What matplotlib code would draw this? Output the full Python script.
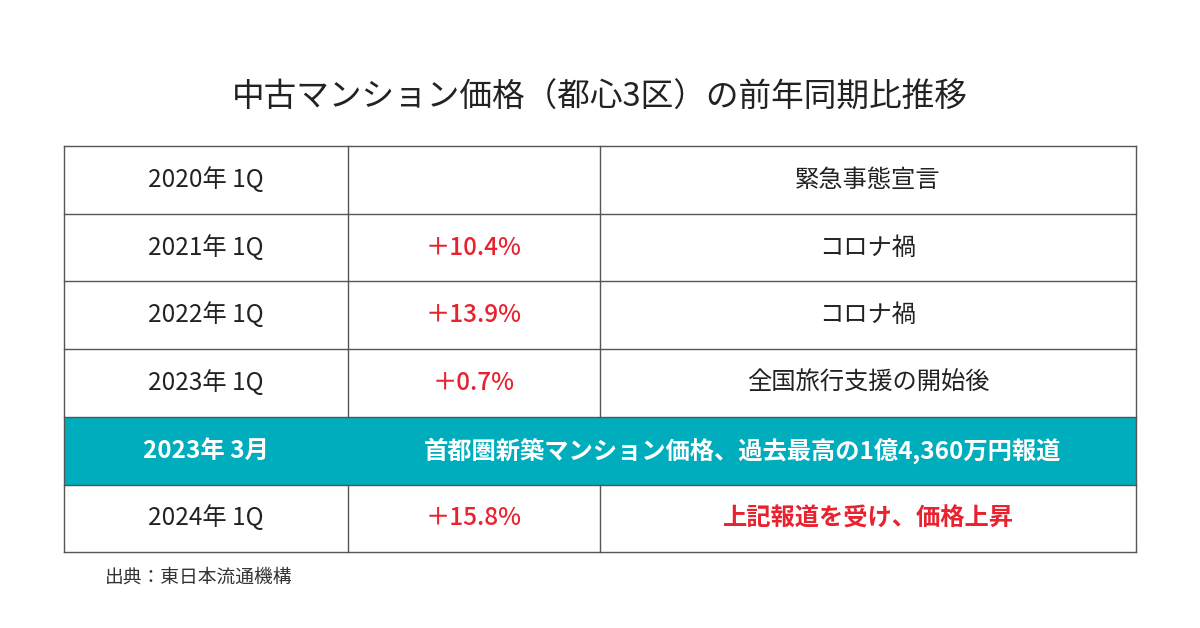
import matplotlib.pyplot as plt
from matplotlib.patches import Rectangle

plt.rcParams['font.family'] = 'Noto Sans CJK JP'

title = '中古マンション価格（都心3区）の前年同期比推移'
periods = ['2020年 1Q', '2021年 1Q', '2022年 1Q', '2023年 1Q', '2023年 3月', '2024年 1Q']
changes = ['', '＋10.4%', '＋13.9%', '＋0.7%', '', '＋15.8%']
notes = ['緊急事態宣言', 'コロナ禍', 'コロナ禍', '全国旅行支援の開始後',
         '首都圏新築マンション価格、過去最高の1億4,360万円報道', '上記報道を受け、価格上昇']
highlight_row = 4
red_note_row = 5
source = '出典：東日本流通機構'

RED = '#e8232f'
TEAL = '#00adbd'
GRID = '#555555'
FS = 17.5

fig = plt.figure(figsize=(12, 6.28), dpi=100)
ax = fig.add_axes([0, 0, 1, 1])
ax.set_xlim(0, 1200)
ax.set_ylim(628, 0)
ax.axis('off')

x_edges = [64, 348, 600, 1136]
top, row_h = 146, 67.7

ax.text(600, 98, title, ha='center', va='center', fontsize=23.5, color='#222222')

for i, (p, c, n) in enumerate(zip(periods, changes, notes)):
    y0 = top + i * row_h
    yc = y0 + row_h / 2
    if i == highlight_row:
        ax.add_patch(Rectangle((x_edges[0], y0), x_edges[-1] - x_edges[0], row_h,
                               facecolor=TEAL, edgecolor='none', zorder=1))
        ax.text((x_edges[0] + x_edges[1]) / 2, yc, p, ha='center', va='center',
                fontsize=FS, color='white', fontweight='bold', zorder=3)
        ax.text((x_edges[1] + x_edges[3]) / 2, yc, n, ha='center', va='center',
                fontsize=FS, color='white', fontweight='bold', zorder=3)
        continue
    ax.text((x_edges[0] + x_edges[1]) / 2, yc, p, ha='center', va='center',
            fontsize=FS, color='#222222')
    ax.text((x_edges[1] + x_edges[2]) / 2, yc, c, ha='center', va='center',
            fontsize=FS, color=RED, fontweight='medium')
    is_red = i == red_note_row
    ax.text((x_edges[2] + x_edges[3]) / 2, yc, n, ha='center', va='center',
            fontsize=FS, color=RED if is_red else '#222222',
            fontweight='bold' if is_red else 'normal')

# grid lines
n = len(periods)
bottom = top + n * row_h
for i in range(n + 1):
    y = top + i * row_h
    ax.plot([x_edges[0], x_edges[-1]], [y, y], color=GRID, lw=1, zorder=2)
for j, x in enumerate(x_edges):
    y_hi = top + highlight_row * row_h
    y_lo = y_hi + row_h
    if j in (0, 3):
        ax.plot([x, x], [top, bottom], color=GRID, lw=1, zorder=2)
    else:
        ax.plot([x, x], [top, y_hi], color=GRID, lw=1, zorder=2)
        ax.plot([x, x], [y_lo, bottom], color=GRID, lw=1, zorder=2)

ax.text(105, 577, source, ha='left', va='center', fontsize=13.5, color='#333333')

fig.savefig('out.png', dpi=100, facecolor='white')
